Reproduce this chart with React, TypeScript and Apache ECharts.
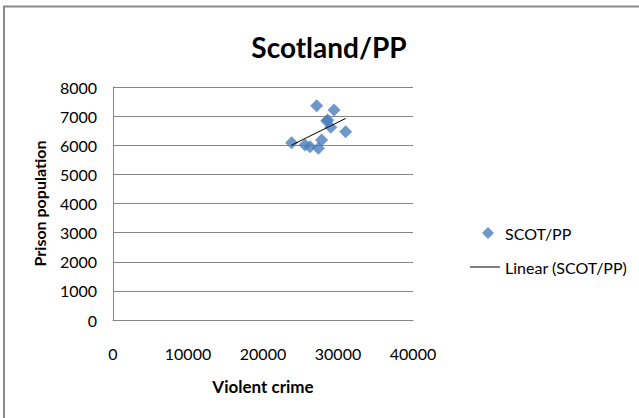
import React, { useEffect, useRef } from "react";
import * as echarts from "echarts";

const title = "Scotland/PP";
const seriesName = "SCOT/PP";
const trendName = "Linear (SCOT/PP)";
const xAxisTitle = "Violent crime";
const yAxisTitle = "Prison population";

// Violent crime (x) and prison population (y)
const violentCrime = [27160, 29470, 28620, 28490, 29030, 31020, 23820, 25600, 26270, 27820, 27380];
const prisonPopulation = [7358, 7210, 6867, 6833, 6616, 6466, 6088, 6009, 5951, 6180, 5895];

const xTicks = { min: 0, max: 40000, interval: 10000 };
const yTicks = { min: 0, max: 8000, interval: 1000 };

const FONT = "Lato, 'Open Sans', sans-serif";

function linearFit(xs: number[], ys: number[]) {
  const n = xs.length;
  const mx = xs.reduce((a, b) => a + b, 0) / n;
  const my = ys.reduce((a, b) => a + b, 0) / n;
  let sxy = 0;
  let sxx = 0;
  for (let i = 0; i < n; i++) {
    sxy += (xs[i] - mx) * (ys[i] - my);
    sxx += (xs[i] - mx) * (xs[i] - mx);
  }
  const slope = sxy / sxx;
  const intercept = my - slope * mx;
  return { slope, intercept };
}

export default function App() {
  const ref = useRef<HTMLDivElement>(null);

  useEffect(() => {
    if (!ref.current) return;
    const chart = echarts.init(ref.current, undefined, { renderer: "svg" });
    const points = violentCrime.map((x, i) => [x, prisonPopulation[i]]);
    const { slope, intercept } = linearFit(violentCrime, prisonPopulation);
    const xMin = Math.min(...violentCrime);
    const xMax = Math.max(...violentCrime);
    const trend = [
      [xMin, intercept + slope * xMin],
      [xMax, intercept + slope * xMax],
    ];

    chart.setOption({
      animation: false,
      backgroundColor: "#ffffff",
      textStyle: { fontFamily: FONT },
      title: {
        text: title,
        left: 324,
        top: 28,
        textAlign: "center",
        textStyle: { fontFamily: FONT, fontSize: 28, fontWeight: "bold", color: "#000" },
      },
      grid: { left: 113, right: 226, top: 87, bottom: 98, containLabel: false },
      legend: [
        {
          data: [seriesName],
          left: 477,
          top: 219,
          icon: "diamond",
          itemWidth: 12,
          itemHeight: 12,
          textStyle: { fontFamily: FONT, fontSize: 16, color: "#000", padding: [0, 0, 0, 6], lineHeight: 18 },
        },
        {
          data: [trendName],
          left: 465,
          top: 253,
          icon: "rect",
          itemWidth: 30,
          itemHeight: 1,
          itemStyle: { color: "#000" },
          textStyle: { fontFamily: FONT, fontSize: 16, color: "#000", lineHeight: 18 },
        },
      ],
      xAxis: {
        type: "value",
        min: xTicks.min,
        max: xTicks.max,
        interval: xTicks.interval,
        name: xAxisTitle,
        nameLocation: "middle",
        nameGap: 58,
        nameTextStyle: { fontFamily: FONT, fontSize: 17, fontWeight: "bold", color: "#000" },
        axisLine: { show: true, lineStyle: { color: "#868686", width: 1 } },
        axisTick: { show: false },
        splitLine: { show: false },
        axisLabel: { fontFamily: FONT, fontSize: 16, color: "#000", margin: 25, formatter: (v: number) => String(v) },
      },
      yAxis: {
        type: "value",
        min: yTicks.min,
        max: yTicks.max,
        interval: yTicks.interval,
        name: yAxisTitle,
        nameLocation: "middle",
        nameGap: 66,
        nameTextStyle: { fontFamily: FONT, fontSize: 16, fontWeight: "bold", color: "#000" },
        axisLine: { show: true, lineStyle: { color: "#868686", width: 1 } },
        axisTick: { show: false },
        splitLine: { show: true, lineStyle: { color: "#868686", width: 1 } },
        axisLabel: { fontFamily: FONT, fontSize: 16, color: "#000", margin: 16, formatter: (v: number) => String(v) },
      },
      series: [
        {
          name: seriesName,
          type: "scatter",
          data: points,
          symbol: "diamond",
          symbolSize: 13,
          itemStyle: { color: "#4A7EBB" },
          z: 2,
        },
        {
          name: trendName,
          type: "line",
          data: trend,
          symbol: "none",
          lineStyle: { color: "#000", width: 1 },
          itemStyle: { color: "#000" },
          z: 3,
        },
      ],
      graphic: [
        {
          type: "rect",
          shape: { x: 4, y: 6.5, width: 700, height: 500 },
          style: { fill: "none", stroke: "#8a8a8a", lineWidth: 2 },
          silent: true,
        },
      ],
    });
    return () => chart.dispose();
  }, []);

  return (
    <div
      ref={ref}
      style={{ position: "fixed", left: 0, top: 0, width: 639, height: 418, background: "#fff" }}
    />
  );
}
